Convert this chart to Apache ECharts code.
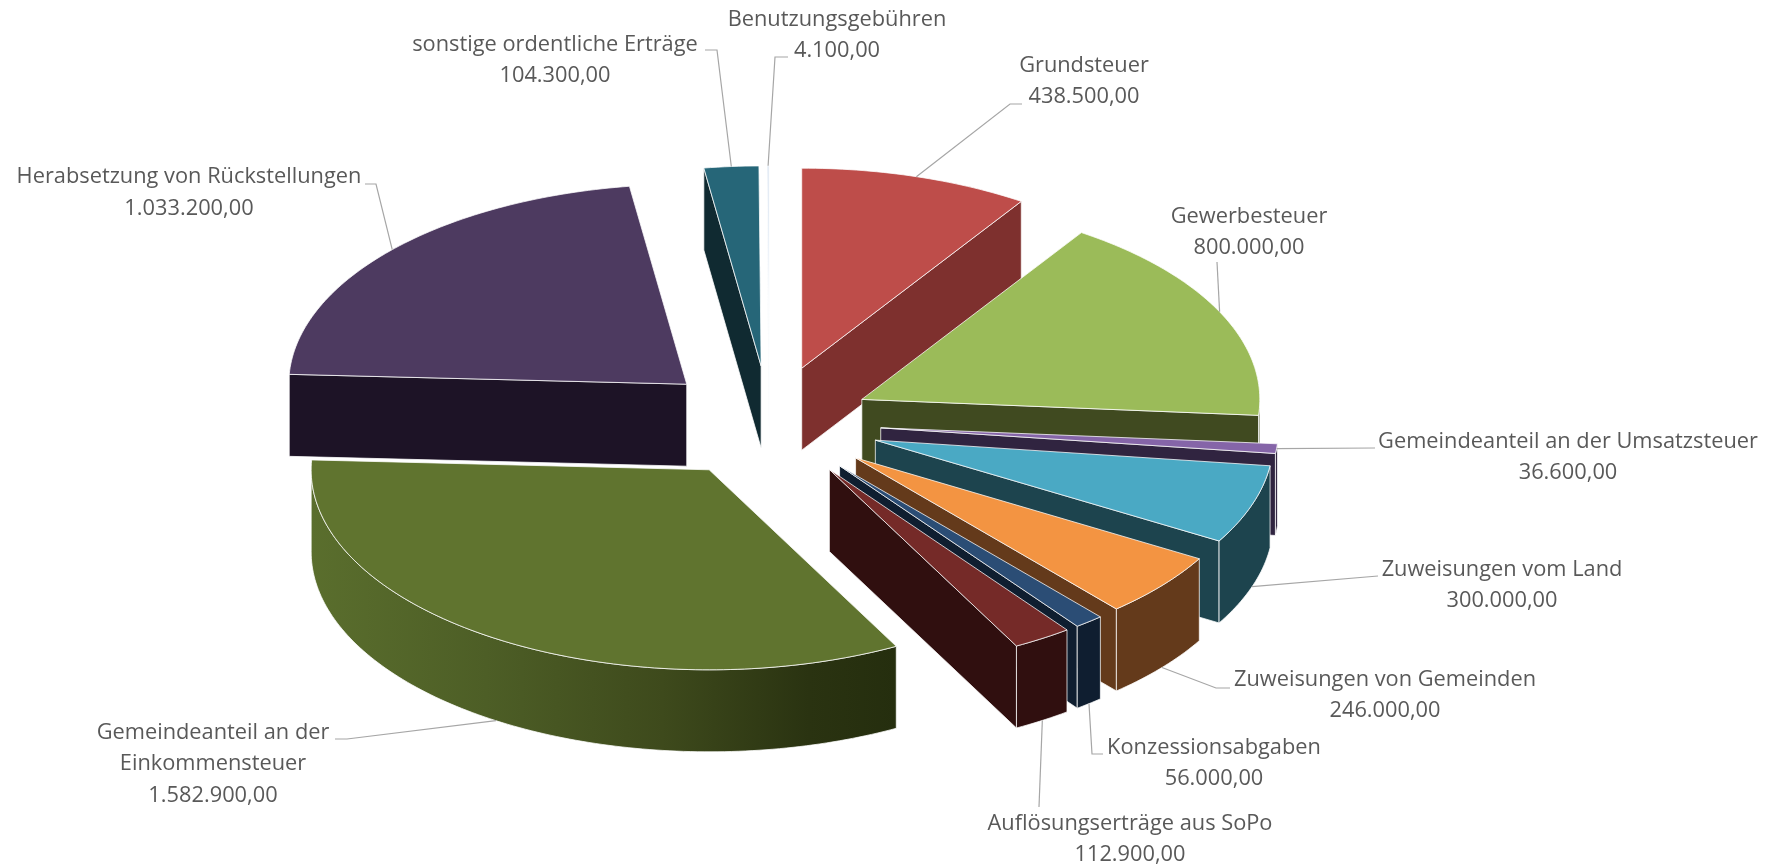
<!DOCTYPE html>
<html>
<head>
<meta charset="utf-8">
<style>
    html, body { margin: 0; padding: 0; background: #fff; }
    #chart { width: 1771px; height: 866px; }
</style>
<script src="https://cdn.jsdelivr.net/npm/echarts@6/dist/echarts.min.js"></script>
</head>
<body>
<div id="chart"></div>
<script>
const categories = [
    'Grundsteuer',
    'Gewerbesteuer',
    'Gemeindeanteil an der Umsatzsteuer',
    'Zuweisungen vom Land',
    'Zuweisungen von Gemeinden',
    'Konzessionsabgaben',
    'Auflösungserträge aus SoPo',
    'Gemeindeanteil an der\nEinkommensteuer',
    'Herabsetzung von Rückstellungen',
    'sonstige ordentliche Erträge',
    'Benutzungsgebühren'
];
const values = [438500, 800000, 36600, 300000, 246000, 56000, 112900, 1582900, 1033200, 104300, 4100];

const topColors = ['#BE4D4A', '#9BBB59', '#8565A8', '#4AA9C4', '#F39442', '#2B4D75', '#752A28', '#60742F', '#4D3A60', '#266678', '#DDE7F3'];
const sideColors = ['#7E302E', '#404A20', '#302440', '#1D444E', '#643A1B', '#0F1E30', '#300F0F', '#2A3311', '#1D1326', '#102A31', '#E8EEF6'];
const bigWallStops = [
    { offset: 0, color: '#5A6E2D' },
    { offset: 0.3, color: '#4D5E26' },
    { offset: 0.6, color: '#3E4A1C' },
    { offset: 0.85, color: '#2A3311' },
    { offset: 1, color: '#252E0E' }
];

// explosion of each slice, in pie radii
const explosion = [0.281, 0.258, 0.281, 0.281, 0.281, 0.281, 0.281, 0.283, 0.281, 0.281, 0.281];
// pixel height of the pie's side walls
const wallHeight = 82;

// label layout: centre x, y of the first line, leader points from the slice outwards
const labelX = [1084, 1249, 1568, 1502, 1385, 1214, 1130, 213, 189, 555, 837];
const labelY = [65.5, 216.5, 441.5, 569.5, 679.5, 747.5, 823.5, 732.5, 177, 44.5, 19.5];
const leaderBends = [
    [[1010, 104], [1022, 104]],
    [[1217, 262]],
    [[1375, 448]],
    [[1378, 576]],
    [[1216, 688], [1230, 688]],
    [[1092, 754], [1103, 754]],
    [[1039, 807]],
    [[347, 739], [335, 739]],
    [[376, 184], [365, 184]],
    [[717, 50], [705, 50]],
    [[775, 57], [788, 57]]
];
// leader starts on the bottom edge of the wall instead of the top rim
const leaderOnWall = [false, false, false, true, true, true, true, true, false, false, false];

const total = values.reduce((a, b) => a + b, 0);
let acc = 0;
const startAngles = [];
const endAngles = [];
values.forEach(v => {
    startAngles.push(acc / total * Math.PI * 2);
    acc += v;
    endAngles.push(acc / total * Math.PI * 2);
});
const midAngle = i => (startAngles[i] + endAngles[i]) / 2;

// back slices have to be painted first
const drawOrder = values.map((v, i) => i).sort((a, b) => Math.cos(midAngle(b)) - Math.cos(midAngle(a)));

const formatValue = v => v.toLocaleString('de-DE', { minimumFractionDigits: 2, maximumFractionDigits: 2 });

// pie plane point -> pixel, the grid is twice as wide as high so the circle becomes the tilted ellipse
const piePoint = (api, i, angle, r) => {
    const mid = midAngle(i);
    const e = explosion[i];
    return api.coord([e * Math.sin(mid) + r * Math.sin(angle), e * Math.cos(mid) + r * Math.cos(angle)]);
};
const down = p => [p[0], p[1] + wallHeight];

const arcPoints = (api, i, from, to) => {
    const steps = Math.max(2, Math.ceil((to - from) / (Math.PI / 180)));
    const pts = [];
    for (let s = 0; s <= steps; s++) {
        pts.push(piePoint(api, i, from + (to - from) * s / steps, 1));
    }
    return pts;
};

const edge = { stroke: 'rgba(255,255,255,0.75)', lineWidth: 1, lineJoin: 'round' };

function renderSlice(params, api) {
    const i = api.value(0);
    const a = startAngles[i];
    const b = endAngles[i];
    const apex = piePoint(api, i, 0, 0);
    const children = [];
    const wall = (pts, fill) => children.push({
        type: 'polygon',
        shape: { points: pts },
        style: Object.assign({ fill: fill || sideColors[i] }, edge)
    });

    // radial walls, only those turned towards the viewer
    if (Math.sin(a) < 0) {
        const p = piePoint(api, i, a, 1);
        wall([apex, p, down(p), down(apex)]);
    }
    if (Math.sin(b) > 0) {
        const p = piePoint(api, i, b, 1);
        wall([apex, p, down(p), down(apex)]);
    }
    // outer wall, front half of the circle only
    const from = Math.max(a, Math.PI / 2);
    const to = Math.min(b, Math.PI * 1.5);
    if (to > from) {
        const rim = arcPoints(api, i, from, to);
        const fill = i === 7 ? new echarts.graphic.LinearGradient(0, 0, 1, 0, bigWallStops) : null;
        wall(rim.concat(rim.map(down).reverse()), fill);
    }
    // top face
    children.push({
        type: 'polygon',
        shape: { points: [apex].concat(arcPoints(api, i, a, b)) },
        style: Object.assign({ fill: topColors[i] }, edge)
    });
    return { type: 'group', children };
}

function renderLabel(params, api) {
    const i = api.value(0);
    const mid = midAngle(i);
    let anchor = piePoint(api, i, mid, 1);
    if (leaderOnWall[i]) anchor = down(anchor);
    const children = [{
        type: 'polyline',
        shape: { points: [anchor].concat(leaderBends[i]) },
        style: { fill: null, stroke: '#A6A6A6', lineWidth: 1.2 }
    }];
    const lines = categories[i].split('\n').concat(formatValue(values[i]));
    lines.forEach((line, n) => {
        children.push({
            type: 'text',
            x: labelX[i],
            y: labelY[i] + n * 31.5,
            style: {
                text: line,
                align: 'center',
                verticalAlign: 'middle',
                fill: '#595959',
                fontFamily: '"Open Sans"',
                fontSize: 21.8
            }
        });
    });
    return { type: 'group', children };
}

const chart = echarts.init(document.getElementById('chart'), null, { renderer: 'canvas' });
chart.setOption({
    backgroundColor: '#fff',
    animation: false,
    grid: { left: 371.5, top: 222, width: 796, height: 400 },
    xAxis: { type: 'value', min: -1, max: 1, show: false },
    yAxis: { type: 'value', min: -1, max: 1, show: false },
    series: [
        {
            type: 'custom',
            clip: false,
            silent: true,
            renderItem: renderSlice,
            encode: { x: 1, y: 1 },
            data: drawOrder.map(i => [i, values[i]]),
            z: 2
        },
        {
            type: 'custom',
            clip: false,
            silent: true,
            renderItem: renderLabel,
            encode: { x: 1, y: 1 },
            data: values.map((v, i) => [i, v]),
            z: 3
        }
    ]
});
</script>
</body>
</html>
